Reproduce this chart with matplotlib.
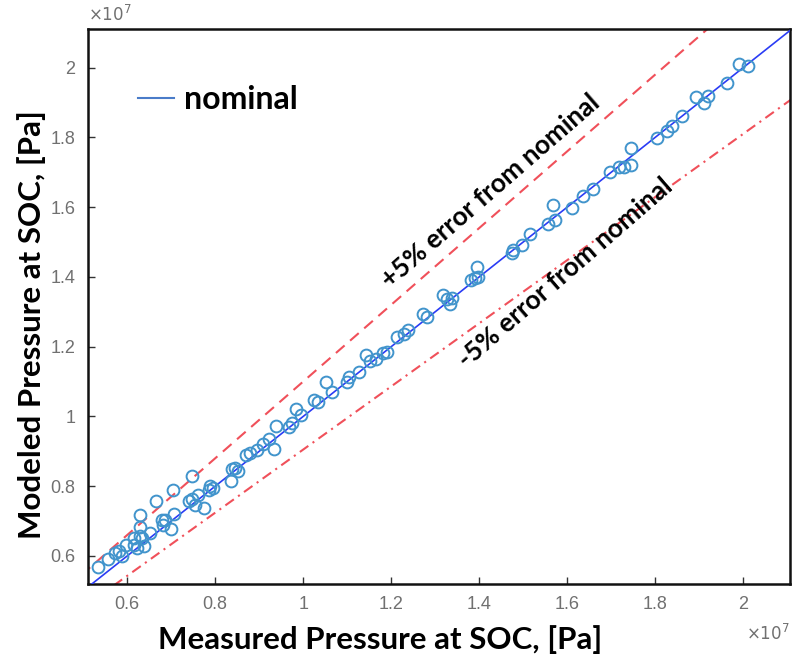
import matplotlib
matplotlib.use("Agg")
import matplotlib.pyplot as plt
from matplotlib.lines import Line2D
from matplotlib.ticker import FuncFormatter
import numpy as np

SCALE = 1e7
# Values in units of 1e7 Pa
measured = [0.534, 0.557, 0.573, 0.582, 0.589, 0.598, 0.616, 0.616, 0.623, 0.630,
            0.630, 0.630, 0.634, 0.639, 0.652, 0.666, 0.680, 0.682, 0.687, 0.700,
            0.703, 0.707, 0.741, 0.748, 0.753, 0.762, 0.775, 0.748, 0.787, 0.789,
            0.794, 0.835, 0.839, 0.846, 0.851, 0.869, 0.880, 0.894, 0.908, 0.923,
            0.933, 0.939, 0.967, 0.974, 0.983, 0.996, 1.024, 1.033, 1.051, 1.065,
            1.099, 1.103, 1.126, 1.142, 1.151, 1.165, 1.181, 1.190, 1.213, 1.229,
            1.238, 1.272, 1.281, 1.318, 1.327, 1.333, 1.338, 1.381, 1.390, 1.395,
            1.397, 1.475, 1.477, 1.498, 1.516, 1.557, 1.568, 1.573, 1.611, 1.636,
            1.659, 1.698, 1.718, 1.730, 1.744, 1.744, 1.805, 1.826, 1.839, 1.862,
            1.892, 1.910, 1.921, 1.964, 1.990, 2.012]
modeled = [0.569, 0.591, 0.609, 0.614, 0.600, 0.631, 0.631, 0.651, 0.623, 0.657,
           0.683, 0.717, 0.651, 0.628, 0.665, 0.757, 0.702, 0.688, 0.702, 0.677,
           0.788, 0.720, 0.757, 0.762, 0.745, 0.774, 0.737, 0.828, 0.788, 0.802,
           0.796, 0.816, 0.848, 0.853, 0.845, 0.890, 0.896, 0.904, 0.922, 0.936,
           0.907, 0.973, 0.970, 0.981, 1.021, 1.004, 1.047, 1.041, 1.098, 1.070,
           1.098, 1.112, 1.126, 1.175, 1.158, 1.166, 1.183, 1.186, 1.229, 1.235,
           1.249, 1.294, 1.286, 1.348, 1.337, 1.323, 1.340, 1.391, 1.397, 1.428,
           1.400, 1.468, 1.476, 1.491, 1.522, 1.553, 1.605, 1.562, 1.599, 1.633,
           1.653, 1.701, 1.716, 1.716, 1.770, 1.721, 1.798, 1.818, 1.832, 1.861,
           1.915, 1.898, 1.920, 1.955, 2.011, 2.006]
tick_vals = [0.6, 0.8, 1.0, 1.2, 1.4, 1.6, 1.8, 2.0]
xlim = (0.511, 2.106)
ylim = (0.52, 2.11)
upper_factor = 1.10    # dashed band line as drawn
lower_factor = 0.905   # dash-dot band line as drawn

mx = np.array(measured) * SCALE
my = np.array(modeled) * SCALE

fig = plt.figure(figsize=(7.93, 6.65), dpi=100)
ax = fig.add_axes([0.111, 0.122, 0.885, 0.834])

line_x = np.array([0.4, 2.3]) * SCALE
ax.plot(line_x, line_x, color='#2a3cf5', lw=1.2, zorder=3)
ax.plot(line_x, line_x * upper_factor, color='#f0505a', lw=1.5, dashes=(5.5, 3.5), zorder=2)
ax.plot(line_x, line_x * lower_factor, color='#f0505a', lw=1.5, dashes=(5, 2.5, 1, 2.5), zorder=2)
ax.plot(mx, my, 'o', mfc='none', mec='#4194cc', ms=8.5, mew=1.4, zorder=4)

ax.set_xlim(xlim[0] * SCALE, xlim[1] * SCALE)
ax.set_ylim(ylim[0] * SCALE, ylim[1] * SCALE)
ticks = [t * SCALE for t in tick_vals]
ax.set_xticks(ticks)
ax.set_yticks(ticks)
fmt = FuncFormatter(lambda v, p: f"{v / SCALE:.1f}".rstrip('0').rstrip('.'))
ax.xaxis.set_major_formatter(fmt)
ax.yaxis.set_major_formatter(fmt)
ax.tick_params(direction='in', length=5, width=1, colors='#333333',
               labelcolor='#707070', labelsize=13, pad=9, top=False, right=False)
for lab in ax.get_xticklabels() + ax.get_yticklabels():
    lab.set_family('Liberation Sans')
for s in ax.spines.values():
    s.set_linewidth(1.8)
    s.set_color('#111111')

ax.set_xlabel('Measured Pressure at SOC, [Pa]', family='Lato', weight='bold',
              fontsize=22.5)
ax.xaxis.set_label_coords(0.416, -0.101, transform=ax.transAxes)
ax.xaxis.label.set_va('center')
ax.set_ylabel('Modeled Pressure at SOC, [Pa]', family='Lato', weight='bold',
              fontsize=22.5)
ax.yaxis.set_label_coords(-0.08, 0.467, transform=ax.transAxes)
ax.yaxis.label.set_va('center')

ax.text(0.0, 1.01, r'$\times10^{7}$', transform=ax.transAxes, fontsize=12,
        color='#707070', ha='left', va='bottom', family='Liberation Sans')
ax.text(1.0, -0.07, r'$\times10^{7}$', transform=ax.transAxes, fontsize=12,
        color='#707070', ha='right', va='top', family='Liberation Sans')

ax.text(1.425 * SCALE, 1.647 * SCALE, '+5% error from nominal', family='Lato',
        weight='bold', fontsize=19, rotation=41, rotation_mode='anchor',
        ha='center', va='center')
ax.text(1.595 * SCALE, 1.411 * SCALE, '-5% error from nominal', family='Lato',
        weight='bold', fontsize=19, rotation=41, rotation_mode='anchor',
        ha='center', va='center')

handle = Line2D([], [], color='#4a7cc9', lw=1.5)
leg = ax.legend([handle], ['nominal'], loc='center left', bbox_to_anchor=(0.048, 0.873),
                frameon=False, handlelength=1.15, handletextpad=0.3, borderpad=0,
                prop={'family': 'Lato', 'weight': 'bold', 'size': 23})

fig.savefig('out.png', dpi=100)
